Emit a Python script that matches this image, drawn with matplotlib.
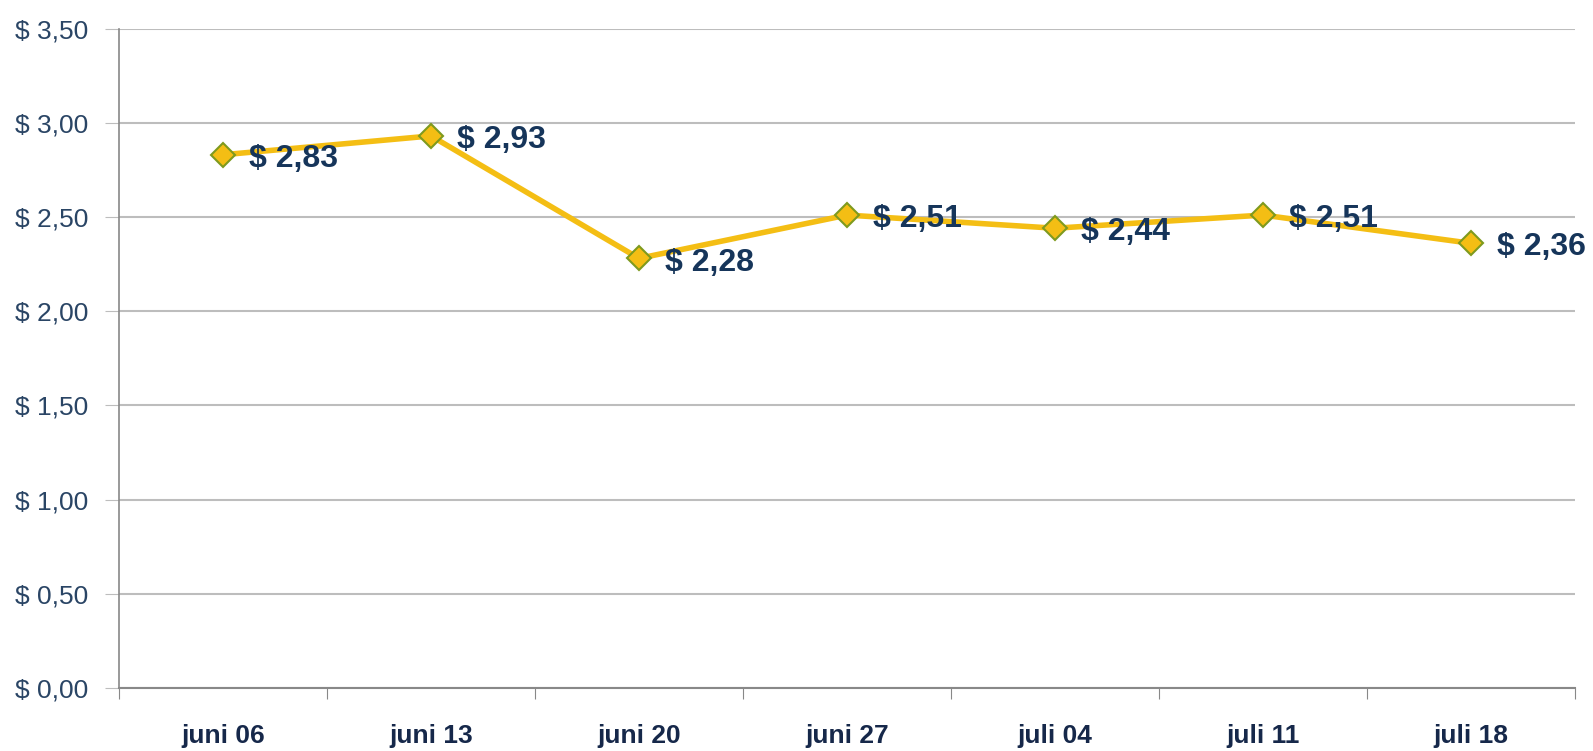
import matplotlib
matplotlib.use('Agg')
import matplotlib.pyplot as plt
import numpy as np

# weekly price
weeks = ['juni 06', 'juni 13', 'juni 20', 'juni 27', 'juli 04', 'juli 11', 'juli 18']
prices = [2.83, 2.93, 2.28, 2.51, 2.44, 2.51, 2.36]
yticks = [0.0, 0.5, 1.0, 1.5, 2.0, 2.5, 3.0, 3.5]

FONT = ['Liberation Sans Narrow', 'Liberation Sans', 'DejaVu Sans']
plt.rcParams['font.family'] = FONT

fig = plt.figure(figsize=(15.93, 7.51), dpi=100)
ax = fig.add_axes([0.0747, 0.084, 0.9140, 0.878])

x = np.arange(len(weeks))
ax.plot(x, prices, color='#F4BE14', lw=4, zorder=3,
        marker='D', markersize=12, markerfacecolor='#F4BE14',
        markeredgecolor='#7E9A1E', markeredgewidth=1.5)

for xi, p in zip(x, prices):
    label = '$ ' + f'{p:.2f}'.replace('.', ',')
    ax.annotate(label, (xi, p), xytext=(19, -3), textcoords='offset points',
                ha='left', va='center', fontsize=23, fontweight='bold',
                color='#16355A', zorder=4)

ax.set_xlim(-0.5, len(weeks) - 0.5)
ax.set_ylim(0, 3.5)
ax.set_yticks(yticks)
ax.set_yticklabels(['$ ' + f'{v:.2f}'.replace('.', ',') for v in yticks],
                   fontsize=19, color='#2A4565')
ax.yaxis.grid(True, color='#BDBDBD', lw=1.5)
ax.set_axisbelow(True)

# category ticks at slot boundaries, labels centred
ax.set_xticks(np.arange(-0.5, len(weeks)), minor=False)
ax.set_xticklabels([])
ax.set_xticks(x, minor=True)
ax.set_xticklabels(weeks, minor=True, fontsize=19, fontweight='bold', color='#16284A')
ax.tick_params(axis='x', which='minor', length=0, pad=26)
ax.tick_params(axis='x', which='major', length=8, color='#888888', direction='out')
ax.tick_params(axis='y', length=10, color='#BDBDBD', pad=12)

for s in ['top', 'right']:
    ax.spines[s].set_visible(False)
ax.spines['left'].set_color('#888888')
ax.spines['bottom'].set_color('#888888')
ax.spines['left'].set_linewidth(1.2)
ax.spines['bottom'].set_linewidth(1.5)

plt.savefig('out.png', dpi=100)
